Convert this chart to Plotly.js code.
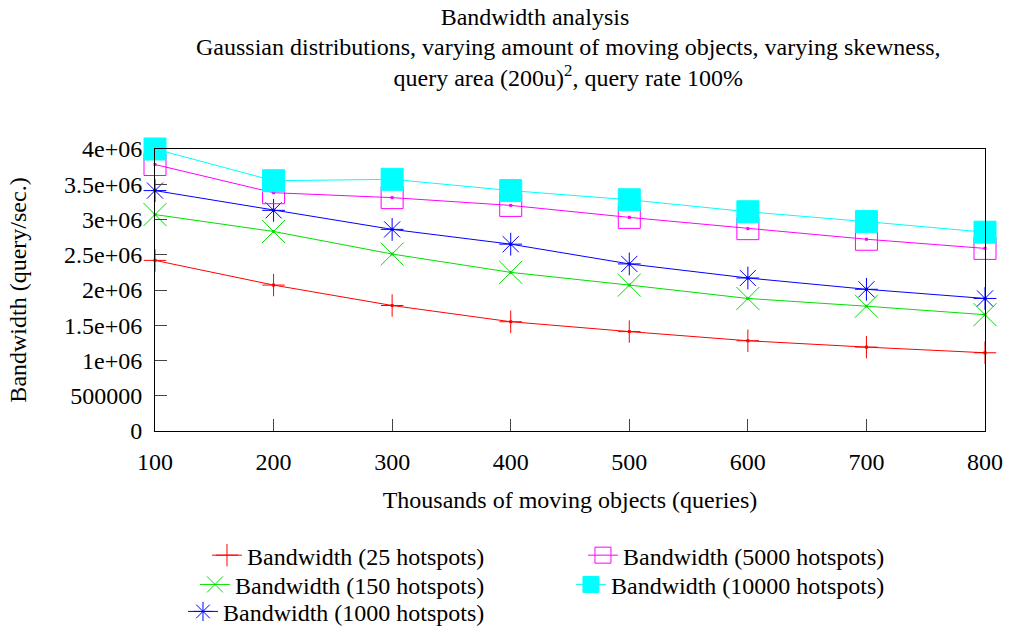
<!DOCTYPE html>
<html>
<head>
<meta charset="utf-8">
<script src="https://cdn.plot.ly/plotly-3.0.1.min.js"></script>
<style>html,body{margin:0;padding:0;background:#fff;}#chart{width:1009px;height:628px;}</style>
</head>
<body>
<div id="chart"></div>
<script>
// Data
const objects = [100, 200, 300, 400, 500, 600, 700, 800];
const bw25    = [2.42e6, 2.07e6, 1.78e6, 1.55e6, 1.41e6, 1.28e6, 1.19e6, 1.11e6];
const bw150   = [3.07e6, 2.83e6, 2.51e6, 2.25e6, 2.07e6, 1.88e6, 1.77e6, 1.65e6];
const bw1000  = [3.41e6, 3.13e6, 2.86e6, 2.65e6, 2.37e6, 2.17e6, 2.01e6, 1.88e6];
const bw5000  = [3.78e6, 3.38e6, 3.31e6, 3.20e6, 3.03e6, 2.87e6, 2.72e6, 2.59e6];
const bw10000 = [4.00e6, 3.55e6, 3.57e6, 3.41e6, 3.28e6, 3.11e6, 2.97e6, 2.82e6];
const seriesNames = [
  "Bandwidth (25 hotspots)",
  "Bandwidth (150 hotspots)",
  "Bandwidth (1000 hotspots)",
  "Bandwidth (5000 hotspots)",
  "Bandwidth (10000 hotspots)"
];
const yTickVals = [0, 500000, 1000000, 1500000, 2000000, 2500000, 3000000, 3500000, 4000000];
const yTickText = ["0", "500000", "1e+06", "1.5e+06", "2e+06", "2.5e+06", "3e+06", "3.5e+06", "4e+06"];
const xTickVals = [100, 200, 300, 400, 500, 600, 700, 800];
const titleMain = "Bandwidth analysis";
const titleSub = "Gaussian distributions, varying amount of moving objects, varying skewness,<br>query area (200u)<sup>2</sup>, query rate 100%";

const FONT = "'Liberation Serif', 'Times New Roman', serif";
const FS = 24;

function mk(y, name, color, symbol, size, legend) {
  return {
    x: objects, y: y, name: name, type: "scatter", mode: "lines+markers",
    legend: legend, cliponaxis: false,
    line: {color: color, width: 1},
    marker: {symbol: symbol, size: size, color: color,
             line: {color: color, width: 1}}
  };
}
function dots(y, color) {
  return {
    x: objects, y: y, type: "scatter", mode: "markers", showlegend: false,
    cliponaxis: false, hoverinfo: "skip",
    marker: {symbol: "square", size: 3, color: color, line: {width: 0}}
  };
}

const traces = [
  mk(bw25, seriesNames[0], "#ff0000", "cross-thin", 16, "legend"),
  dots(bw25, "#ff0000"),
  mk(bw150, seriesNames[1], "#00e000", "x-thin", 23, "legend2"),
  dots(bw150, "#00e000"),
  mk(bw1000, seriesNames[2], "#0000ff", "asterisk", 19, "legend3"),
  dots(bw1000, "#0000ff"),
  mk(bw5000, seriesNames[3], "#ff00ff", "square-open", 22, "legend4"),
  dots(bw5000, "#ff00ff"),
  mk(bw10000, seriesNames[4], "#00ffff", "square", 22, "legend5")
];

function leg(x, y) {
  return {
    x: x, xanchor: "right", y: y, yanchor: "middle",
    bgcolor: "rgba(0,0,0,0)", borderwidth: 0,
    font: {family: FONT, size: FS}, tracegroupgap: 0
  };
}

const layout = {
  width: 1009, height: 628,
  margin: {l: 155, r: 24, t: 149, b: 197, autoexpand: false},
  paper_bgcolor: "#fff", plot_bgcolor: "#fff",
  font: {family: FONT, size: FS, color: "#000"},
  title: {
    text: titleMain,
    font: {family: FONT, size: FS, color: "#000"},
    x: 0.4578, xanchor: "center", xref: "paper",
    y: 0.987, yanchor: "top", yref: "container"
  },
  annotations: [{
    text: titleSub, showarrow: false,
    xref: "paper", yref: "paper", x: 0.4976, y: 1.3053,
    xanchor: "center", yanchor: "middle", align: "center",
    font: {family: FONT, size: FS, color: "#000"}
  }],
  xaxis: {
    range: [100, 800], tickmode: "array", tickvals: xTickVals,
    ticks: "inside", ticklen: 12, tickcolor: "#444", tickwidth: 1,
    ticklabelstandoff: 9,
    showline: true, linecolor: "#000", linewidth: 1, mirror: true,
    showgrid: false, zeroline: false,
    tickfont: {family: FONT, size: FS},
    title: {text: "Thousands of moving objects (queries)", font: {family: FONT, size: FS}, standoff: 17}
  },
  yaxis: {
    range: [0, 4000000], tickmode: "array", tickvals: yTickVals, ticktext: yTickText,
    ticks: "inside", ticklen: 12, tickcolor: "#444", tickwidth: 1,
    ticklabelstandoff: 7,
    showline: true, linecolor: "#000", linewidth: 1, mirror: true,
    showgrid: false, zeroline: false,
    tickfont: {family: FONT, size: FS},
    title: {text: "Bandwidth (query/sec.)", font: {family: FONT, size: FS}, standoff: 30}
  },
  legend: leg(0.4036, -0.4417),
  legend2: leg(0.4036, -0.5455),
  legend3: leg(0.4036, -0.6412),
  legend4: leg(0.8855, -0.4417),
  legend5: leg(0.8855, -0.5455),
  showlegend: true
};

Plotly.newPlot("chart", traces, layout, {displayModeBar: false, staticPlot: true});
</script>
</body>
</html>
